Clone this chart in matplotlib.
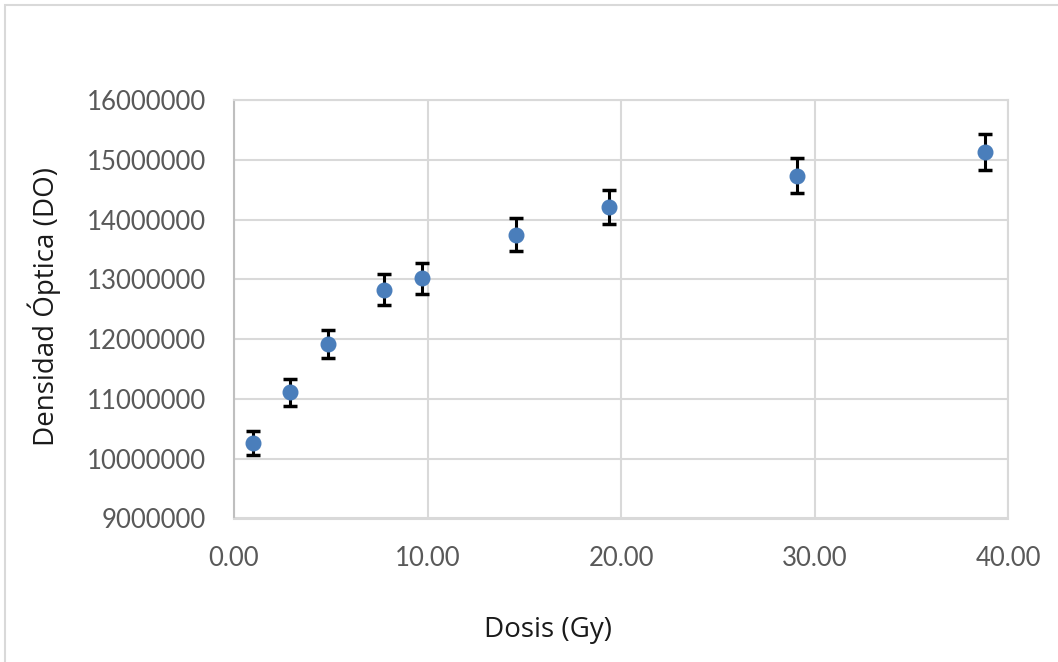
import matplotlib
matplotlib.use("Agg")
import matplotlib.pyplot as plt
from matplotlib.patches import Rectangle
from matplotlib.ticker import FixedLocator, FuncFormatter

# Dose (Gy) and optical density measurements with their uncertainties
dosis = [0.97, 2.91, 4.85, 7.76, 9.70, 14.55, 19.40, 29.10, 38.80]
densidad = [10260000, 11110000, 11920000, 12830000, 13020000,
            13750000, 14205000, 14735000, 15135000]
error = [205000, 222000, 238000, 257000, 260000,
         275000, 284000, 295000, 303000]

x_ticks = [0, 10, 20, 30, 40]
y_ticks = [9000000, 10000000, 11000000, 12000000, 13000000,
           14000000, 15000000, 16000000]

W, H = 1058, 662
fig = plt.figure(figsize=(W / 100, H / 100), dpi=100)

# outer chart border
fig.patches.append(Rectangle((5 / W, -0.1), 1.2, 1 - 5 / H + 0.1,
                             transform=fig.transFigure, fill=False,
                             edgecolor="#d9d9d9", linewidth=1.5))

ax = fig.add_axes([234 / W, 1 - 518.5 / H, (1008 - 234) / W, (518.5 - 100) / H])

ax.errorbar(dosis, densidad, yerr=error, fmt="o", color="#4a7ebb",
            markersize=10.5, ecolor="black", elinewidth=2.2, capsize=5,
            capthick=2.5, zorder=3)

ax.set_xlim(0, 40)
ax.set_ylim(9000000, 16000000)
ax.xaxis.set_major_locator(FixedLocator(x_ticks))
ax.yaxis.set_major_locator(FixedLocator(y_ticks))
ax.xaxis.set_major_formatter(FuncFormatter(lambda v, p: f"{v:.2f}"))
ax.yaxis.set_major_formatter(FuncFormatter(lambda v, p: f"{int(v)}"))

ax.grid(True, color="#d9d9d9", linewidth=1.5, zorder=0)
ax.set_axisbelow(True)
for s in ax.spines.values():
    s.set_color("#d9d9d9")
    s.set_linewidth(1.5)
ax.spines["left"].set_color("#bfbfbf")

ax.tick_params(axis="both", length=0, labelsize=18.5, labelcolor="#595959")
ax.tick_params(axis="x", pad=20)
ax.tick_params(axis="y", pad=20)
for lab in ax.get_xticklabels() + ax.get_yticklabels():
    lab.set_family("Lato")

fig.text(548 / W, 1 - 630 / H, "Dosis (Gy)", ha="center", va="center",
         fontsize=20, family="Open Sans", color="#1a1a1a")
fig.text(44 / W, 1 - 306 / H, "Densidad Óptica (DO)", ha="center", va="center",
         rotation=90, fontsize=20, family="Open Sans", color="#1a1a1a")

fig.savefig("out.png", dpi=100, facecolor="white")
